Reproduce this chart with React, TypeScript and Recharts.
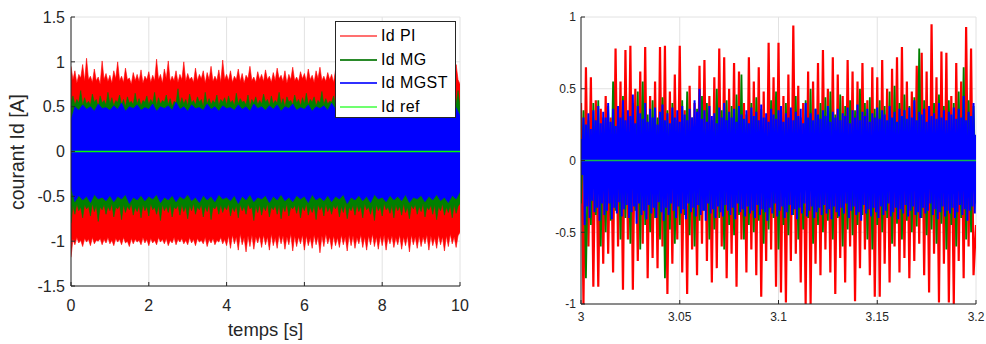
import React from "react";
import { ComposedChart, Area, Line, XAxis, YAxis, CartesianGrid } from "recharts";

const FONT = '"Liberation Sans", Arial, sans-serif';
const AX = "#262626";
const GRID = "#e2e2e2";
const PI = "#ff0000";
const MG = "#008000";
const MGST = "#0000ff";
const REF = "#00ff00";

// ---- left plot : upper / lower envelope of each current over 0..10 s
const leftXTicks = [0, 2, 4, 6, 8, 10];
const leftYTicks = [-1.5, -1, -0.5, 0, 0.5, 1, 1.5];

// red and green read every 0.05 s
const piHi = [
  0.95,0.80,0.90,0.76,0.86,0.82,0.97,0.78,1.04,0.80,0.84,0.77,0.92,0.79,0.83,0.75,1.01,0.80,0.87,0.78,
  0.85,0.76,0.90,0.81,1.00,0.79,0.84,0.77,0.93,0.80,0.82,0.75,0.88,0.79,0.86,0.78,0.91,0.76,0.84,0.80,
  0.89,0.77,0.85,0.79,1.03,0.80,0.86,0.76,0.92,0.81,1.01,0.78,0.84,0.79,0.90,0.77,0.86,0.80,1.00,0.78,
  0.87,0.80,0.83,0.77,0.93,0.79,0.86,0.81,0.90,0.76,0.88,0.80,0.95,0.78,0.84,0.79,0.91,0.77,1.02,0.80,
  0.86,0.79,0.90,0.77,0.84,0.80,0.92,0.78,0.87,0.76,0.85,0.81,0.95,0.79,0.83,0.77,0.89,0.80,0.86,0.78,
  0.91,0.80,0.84,0.77,0.88,0.79,0.93,0.81,0.85,0.78,0.90,0.76,0.86,0.80,0.94,0.79,0.83,0.78,0.89,0.81,
  0.87,0.78,0.92,0.80,0.85,0.77,0.90,0.81,0.94,0.79,0.84,0.78,0.88,0.80,0.86,0.77,0.91,0.82,0.85,0.79,
  0.89,0.80,0.93,0.78,0.86,0.81,0.90,0.77,0.87,0.80,0.95,0.79,0.84,0.78,0.91,0.81,0.86,0.77,0.89,0.80,
  0.92,0.79,0.85,0.78,0.90,0.81,0.87,0.77,0.93,0.80,0.84,0.79,0.88,0.82,0.86,0.78,0.91,0.80,0.85,0.79,
  0.90,0.78,0.87,0.81,0.92,0.79,0.85,0.80,0.89,0.77,0.86,0.81,0.91,0.79,0.88,0.80,0.84,0.78,0.97,0.80,
  0.75];
const piLo = [
  -1.18,-0.98,-1.04,-0.96,-1.02,-0.99,-1.06,-0.97,-1.01,-0.98,-1.05,-0.96,-1.03,-0.99,-1.00,-0.97,-1.04,-0.98,-1.02,-0.96,
  -1.03,-0.99,-1.05,-0.97,-1.01,-0.98,-1.04,-0.96,-1.02,-1.00,-1.06,-0.97,-1.03,-0.98,-1.01,-0.99,-1.04,-0.96,-1.02,-0.98,
  -1.05,-0.97,-1.02,-0.99,-1.04,-0.96,-1.01,-0.98,-1.03,-0.97,-1.05,-0.99,-1.02,-0.96,-1.04,-0.98,-1.01,-0.97,-1.03,-0.99,
  -1.04,-0.96,-1.02,-0.98,-1.05,-0.97,-1.01,-0.99,-1.03,-0.96,-1.06,-0.98,-1.02,-0.97,-1.04,-0.99,-1.01,-0.96,-1.03,-0.98,
  -1.05,-0.94,-1.08,-0.93,-1.03,-0.95,-1.10,-0.92,-1.04,-0.96,-1.12,-0.94,-1.06,-0.93,-1.09,-0.95,-1.02,-0.94,-1.07,-0.93,
  -1.04,-0.95,-1.10,-0.92,-1.05,-0.96,-1.08,-0.93,-1.03,-0.94,-1.09,-0.95,-1.04,-0.92,-1.11,-0.94,-1.06,-0.95,-1.03,-0.93,
  -1.10,-0.94,-1.05,-0.96,-1.08,-0.93,-1.04,-0.95,-1.13,-0.94,-1.06,-0.92,-1.03,-0.95,-1.09,-0.94,-1.05,-0.96,-1.07,-0.93,
  -1.04,-0.95,-1.11,-0.93,-1.05,-0.94,-1.08,-0.96,-1.03,-0.93,-1.07,-0.95,-1.10,-0.94,-1.04,-0.92,-1.06,-0.95,-1.09,-0.94,
  -1.05,-0.93,-1.10,-0.95,-1.03,-0.94,-1.07,-0.96,-1.04,-0.93,-1.09,-0.95,-1.05,-0.94,-1.12,-0.93,-1.04,-0.95,-1.08,-0.94,
  -1.06,-0.95,-1.03,-0.93,-1.10,-0.94,-1.05,-0.96,-1.08,-0.93,-1.04,-0.95,-1.11,-0.94,-1.06,-0.92,-1.03,-0.95,-1.07,-0.94,
  -0.90];
const mgHi = [
  0.55,0.62,0.52,0.58,0.54,0.68,0.51,0.60,0.53,0.56,0.52,0.64,0.55,0.58,0.50,0.62,0.54,0.57,0.52,0.66,
  0.53,0.60,0.51,0.57,0.55,0.63,0.52,0.58,0.50,0.61,0.54,0.56,0.52,0.65,0.53,0.59,0.51,0.57,0.55,0.62,
  0.52,0.58,0.54,0.66,0.51,0.60,0.53,0.57,0.55,0.63,0.52,0.59,0.50,0.56,0.54,0.70,0.52,0.60,0.53,0.58,
  0.51,0.64,0.54,0.57,0.52,0.61,0.55,0.58,0.50,0.66,0.53,0.59,0.52,0.57,0.54,0.63,0.51,0.58,0.55,0.60,
  0.52,0.62,0.54,0.57,0.51,0.65,0.53,0.59,0.55,0.56,0.52,0.63,0.50,0.58,0.54,0.61,0.52,0.57,0.53,0.64,
  0.55,0.58,0.51,0.62,0.53,0.57,0.54,0.66,0.52,0.59,0.50,0.61,0.55,0.57,0.52,0.63,0.54,0.58,0.51,0.60,
  0.53,0.65,0.52,0.58,0.55,0.61,0.51,0.57,0.54,0.67,0.52,0.59,0.53,0.56,0.55,0.62,0.51,0.58,0.54,0.60,
  0.52,0.63,0.54,0.57,0.51,0.60,0.55,0.66,0.53,0.58,0.52,0.61,0.54,0.57,0.50,0.64,0.53,0.59,0.55,0.57,
  0.51,0.62,0.54,0.58,0.52,0.65,0.53,0.57,0.55,0.60,0.51,0.63,0.54,0.58,0.52,0.61,0.53,0.66,0.51,0.58,
  0.54,0.60,0.52,0.57,0.55,0.63,0.51,0.59,0.53,0.58,0.52,0.64,0.54,0.57,0.55,0.61,0.52,0.60,0.53,0.68,
  0.50];
const mgLo = [
  -0.80,-0.60,-0.70,-0.58,-0.66,-0.62,-0.74,-0.59,-0.64,-0.61,-0.72,-0.58,-0.67,-0.60,-0.78,-0.62,-0.65,-0.59,-0.70,-0.61,
  -0.66,-0.58,-0.73,-0.62,-0.64,-0.60,-0.76,-0.59,-0.68,-0.61,-0.65,-0.58,-0.71,-0.62,-0.67,-0.60,-0.74,-0.59,-0.66,-0.61,
  -0.72,-0.58,-0.65,-0.62,-0.70,-0.60,-0.77,-0.59,-0.66,-0.61,-0.68,-0.58,-0.73,-0.62,-0.64,-0.60,-0.71,-0.59,-0.67,-0.61,
  -0.75,-0.60,-0.66,-0.58,-0.70,-0.62,-0.65,-0.59,-0.73,-0.61,-0.67,-0.58,-0.76,-0.62,-0.64,-0.60,-0.70,-0.59,-0.68,-0.61,
  -0.65,-0.58,-0.72,-0.62,-0.67,-0.60,-0.74,-0.59,-0.66,-0.61,-0.70,-0.58,-0.64,-0.62,-0.77,-0.60,-0.68,-0.59,-0.71,-0.61,
  -0.66,-0.58,-0.73,-0.62,-0.65,-0.60,-0.70,-0.59,-0.75,-0.61,-0.67,-0.58,-0.72,-0.62,-0.64,-0.60,-0.69,-0.59,-0.74,-0.61,
  -0.66,-0.58,-0.71,-0.62,-0.68,-0.60,-0.76,-0.59,-0.65,-0.61,-0.72,-0.58,-0.67,-0.62,-0.70,-0.60,-0.64,-0.59,-0.73,-0.61,
  -0.68,-0.58,-0.75,-0.62,-0.66,-0.60,-0.71,-0.59,-0.67,-0.61,-0.74,-0.58,-0.65,-0.62,-0.70,-0.60,-0.77,-0.59,-0.66,-0.61,
  -0.72,-0.58,-0.65,-0.62,-0.69,-0.60,-0.74,-0.59,-0.66,-0.61,-0.71,-0.58,-0.68,-0.62,-0.75,-0.60,-0.64,-0.59,-0.70,-0.61,
  -0.67,-0.58,-0.73,-0.62,-0.65,-0.60,-0.70,-0.59,-0.76,-0.61,-0.66,-0.58,-0.71,-0.62,-0.68,-0.60,-0.74,-0.59,-0.69,-0.61,
  -0.58];

// blue read every 0.1 s
const mgstHi = [0.35,0.50,0.46,0.52,0.47,0.50,0.45,0.53,0.48,0.49,
  0.46,0.51,0.47,0.54,0.45,0.50,0.48,0.52,0.46,0.49,
  0.47,0.53,0.45,0.50,0.48,0.51,0.46,0.55,0.47,0.50,
  0.45,0.52,0.48,0.49,0.46,0.53,0.47,0.50,0.45,0.51,
  0.48,0.49,0.46,0.52,0.47,0.50,0.45,0.53,0.48,0.50,
  0.46,0.51,0.47,0.52,0.45,0.50,0.48,0.53,0.46,0.49,
  0.47,0.52,0.45,0.50,0.48,0.51,0.46,0.54,0.47,0.50,
  0.45,0.52,0.48,0.49,0.46,0.53,0.47,0.50,0.45,0.51,
  0.48,0.50,0.46,0.52,0.47,0.49,0.45,0.53,0.48,0.50,
  0.46,0.51,0.47,0.52,0.45,0.50,0.48,0.53,0.46,0.49,
  0.40];
const mgstLo = [-0.40,-0.56,-0.49,-0.54,-0.50,-0.57,-0.48,-0.53,-0.51,-0.55,
  -0.49,-0.56,-0.50,-0.53,-0.48,-0.58,-0.51,-0.54,-0.49,-0.55,
  -0.50,-0.53,-0.48,-0.57,-0.51,-0.54,-0.49,-0.56,-0.50,-0.53,
  -0.48,-0.55,-0.51,-0.57,-0.49,-0.54,-0.50,-0.56,-0.48,-0.53,
  -0.51,-0.55,-0.49,-0.58,-0.50,-0.54,-0.48,-0.56,-0.51,-0.53,
  -0.49,-0.57,-0.50,-0.54,-0.48,-0.55,-0.51,-0.56,-0.49,-0.53,
  -0.50,-0.57,-0.48,-0.54,-0.51,-0.55,-0.49,-0.56,-0.50,-0.53,
  -0.48,-0.58,-0.51,-0.54,-0.49,-0.55,-0.50,-0.57,-0.48,-0.53,
  -0.51,-0.56,-0.49,-0.54,-0.50,-0.55,-0.48,-0.57,-0.51,-0.53,
  -0.49,-0.56,-0.50,-0.54,-0.48,-0.55,-0.51,-0.57,-0.49,-0.53,
  -0.45];

// ---- right plot : zoom on 3.0..3.2 s (one sample every 1.25 ms)
const rightXTicks = [3, 3.05, 3.1, 3.15, 3.2];
const rightYTicks = [-1, -0.5, 0, 0.5, 1];
const T0 = 3;
const DT = 0.00125;

const zoomPI = [0.40,-1.00,0.65,-0.60,0.58,-0.88,0.42,-0.88,0.36,-0.72,
  0.45,-0.65,0.30,-0.78,0.78,-0.60,0.55,-0.90,0.77,-0.55,
  0.80,-0.90,0.50,-0.70,0.62,-0.58,0.79,-0.82,0.45,-0.68,
  0.55,-0.75,0.79,-0.60,0.80,-0.93,0.48,-0.72,0.60,-0.55,
  0.80,-0.78,0.35,-0.93,0.52,-0.62,0.40,-0.80,0.66,-0.58,
  0.70,-0.70,0.45,-0.85,0.58,-0.75,0.78,-0.60,0.72,-0.82,
  0.50,-0.65,0.68,-0.88,0.62,-0.55,0.40,-0.78,0.72,-0.62,
  0.55,-0.80,0.65,-0.95,0.48,-0.70,0.82,-0.62,0.58,-0.88,
  0.82,-0.92,0.45,-0.99,0.60,-0.70,0.94,-0.65,0.52,-0.85,
  0.40,-1.00,0.62,-1.00,0.55,-0.72,0.68,-0.80,0.77,-0.62,
  0.50,-0.78,0.72,-0.93,0.60,-0.68,0.45,-0.85,0.70,-0.60,
  0.62,-0.98,0.55,-0.75,0.68,-0.62,0.42,-0.80,0.65,-0.95,
  0.58,-0.95,0.70,-0.72,0.50,-0.85,0.64,-0.60,0.72,-0.78,
  0.79,-0.68,0.55,-0.82,0.48,-0.70,0.66,-0.58,0.75,-0.80,
  0.62,-0.92,0.95,-0.65,0.58,-0.99,0.76,-0.72,0.75,-0.99,
  0.45,-1.00,0.68,-0.70,0.55,-0.82,0.93,-0.60,0.78,-0.80,
  -0.45];
const zoomMG = [-0.30,0.35,-0.82,0.28,-0.45,0.40,-0.38,0.42,-0.60,0.30,
  -0.50,0.38,-0.42,0.55,-0.35,0.30,-0.55,0.45,-0.40,0.25,
  -0.58,0.40,-0.35,0.48,-0.62,0.55,-0.45,0.32,-0.50,0.42,
  -0.40,0.30,-0.55,0.44,-0.82,0.35,-0.48,0.40,-0.58,0.28,
  -0.45,0.42,-0.38,0.48,-0.52,0.30,-0.60,0.36,-0.42,0.45,
  -0.35,0.40,-0.55,0.28,-0.48,0.50,-0.40,0.35,-0.62,0.42,
  -0.45,0.38,-0.52,0.46,-0.38,0.60,-0.55,0.32,-0.45,0.40,
  -0.50,0.44,-0.42,0.36,-0.58,0.30,-0.48,0.42,-0.40,0.48,
  -0.62,0.35,-0.45,0.40,-0.52,0.32,-0.38,0.45,-0.55,0.30,
  -0.48,0.42,-0.40,0.50,-0.58,0.36,-0.45,0.40,-0.50,0.44,
  -0.42,0.48,-0.55,0.32,-0.40,0.46,-0.60,0.38,-0.48,0.42,
  -0.52,0.35,-0.45,0.50,-0.38,0.40,-0.55,0.44,-0.62,0.36,
  -0.45,0.42,-0.50,0.38,-0.40,0.48,-0.58,0.52,-0.44,0.40,
  -0.55,0.46,-0.42,0.38,-0.50,0.44,-0.46,0.78,-0.40,0.42,
  -0.52,0.36,-0.48,0.40,-0.58,0.46,-0.44,0.38,-0.62,0.42,
  -0.45,0.40,-0.60,0.48,-0.40,0.65,-0.55,0.42,-0.50,0.38,
  -0.30];
const zoomMgstHi = [0.15,0.30,0.25,0.33,0.22,0.35,0.28,0.38,0.26,0.34,
  0.30,0.40,0.27,0.36,0.24,0.38,0.30,0.42,0.28,0.35,
  0.31,0.46,0.26,0.38,0.33,0.29,0.40,0.27,0.36,0.30,
  0.37,0.25,0.34,0.39,0.28,0.33,0.26,0.37,0.30,0.35,
  0.27,0.38,0.32,0.28,0.36,0.30,0.42,0.34,0.50,0.29,
  0.35,0.27,0.38,0.31,0.33,0.26,0.37,0.30,0.40,0.28,
  0.34,0.30,0.36,0.27,0.38,0.32,0.29,0.35,0.26,0.37,
  0.31,0.34,0.28,0.39,0.30,0.33,0.27,0.36,0.32,0.29,
  0.35,0.38,0.27,0.33,0.30,0.37,0.28,0.34,0.31,0.36,
  0.26,0.40,0.30,0.33,0.28,0.36,0.32,0.29,0.35,0.31,
  0.38,0.27,0.34,0.30,0.36,0.28,0.33,0.31,0.37,0.26,
  0.35,0.30,0.39,0.28,0.34,0.31,0.36,0.27,0.33,0.30,
  0.37,0.29,0.35,0.32,0.28,0.38,0.30,0.34,0.27,0.36,
  0.31,0.35,0.29,0.37,0.30,0.42,0.28,0.34,0.32,0.36,
  0.27,0.38,0.31,0.33,0.29,0.40,0.30,0.35,0.28,0.34,
  0.32,0.37,0.29,0.36,0.30,0.45,0.28,0.34,0.31,0.40,
  0.18];
const zoomMgstLo = [-0.10,-0.45,-0.32,-0.40,-0.28,-0.36,-0.33,-0.42,-0.30,-0.38,
  -0.35,-0.30,-0.41,-0.33,-0.37,-0.29,-0.39,-0.34,-0.31,-0.40,
  -0.36,-0.32,-0.44,-0.30,-0.38,-0.35,-0.41,-0.31,-0.37,-0.33,
  -0.40,-0.29,-0.36,-0.42,-0.33,-0.38,-0.30,-0.35,-0.40,-0.32,
  -0.37,-0.34,-0.41,-0.30,-0.36,-0.33,-0.39,-0.31,-0.38,-0.35,
  -0.42,-0.30,-0.37,-0.34,-0.40,-0.32,-0.36,-0.39,-0.31,-0.35,
  -0.38,-0.33,-0.41,-0.30,-0.36,-0.34,-0.39,-0.32,-0.37,-0.35,
  -0.40,-0.31,-0.38,-0.34,-0.36,-0.42,-0.33,-0.37,-0.30,-0.39,
  -0.35,-0.32,-0.40,-0.36,-0.31,-0.38,-0.34,-0.41,-0.33,-0.37,
  -0.30,-0.39,-0.35,-0.32,-0.40,-0.36,-0.33,-0.38,-0.31,-0.37,
  -0.34,-0.41,-0.32,-0.36,-0.39,-0.33,-0.37,-0.30,-0.40,-0.35,
  -0.32,-0.38,-0.36,-0.42,-0.31,-0.37,-0.34,-0.39,-0.33,-0.36,
  -0.40,-0.32,-0.38,-0.35,-0.30,-0.39,-0.36,-0.33,-0.41,-0.34,
  -0.37,-0.31,-0.39,-0.35,-0.32,-0.38,-0.36,-0.40,-0.33,-0.37,
  -0.35,-0.30,-0.38,-0.34,-0.41,-0.36,-0.32,-0.39,-0.35,-0.37,
  -0.33,-0.40,-0.36,-0.31,-0.38,-0.34,-0.42,-0.35,-0.32,-0.37,
  -0.20];

const legendNames = ["Id PI", "Id MG", "Id MGST", "Id ref"];
const legendColors = ["#ff7070", "#2a8a2a", "#3030ff", "#70ff70"];

// tables for recharts
const leftRows = piHi.map((_, i) => ({
  t: i / 20,
  pi: [piLo[i], piHi[i]],
  mg: [mgLo[i], mgHi[i]],
}));
const mgstLeftRows = mgstHi.map((hi, i) => ({ t: i / 10, mgst: [mgstLo[i], hi] }));
const refLeft = [{ t: 0, v: 0 }, { t: 10, v: 0 }];

const rightRows = zoomPI.map((v, i) => ({ t: T0 + i * DT, pi: v, mg: zoomMG[i] }));
// blue trace goes up then down inside each sample step
const mgstRows = zoomMgstHi
  .flatMap((hi, i) => [
    { t: T0 + i * DT, v: hi },
    { t: T0 + (i + 0.5) * DT, v: zoomMgstLo[i] },
  ])
  .filter((r) => r.t <= 3.2);
const refRight = [{ t: 3, v: 0 }, { t: 3.2, v: 0 }];

const tickStyle = (size: number) => ({ fill: AX, fontSize: size, fontFamily: FONT });

export default function App() {
  return (
    <div style={{ position: "absolute", left: 0, top: 0, width: 986, height: 344, background: "#fff", fontFamily: FONT }}>
      <div style={{ position: "absolute", left: 0, top: 0 }}>
        <ComposedChart width={470} height={344} data={leftRows} margin={{ top: 17, right: 10, bottom: 0, left: 0 }}>
          <CartesianGrid stroke={GRID} />
          <XAxis dataKey="t" type="number" domain={[0, 10]} ticks={leftXTicks} interval={0} allowDataOverflow
            height={58} stroke={AX} tickSize={-4} tickMargin={18} tick={tickStyle(16)} />
          <XAxis xAxisId="top" orientation="top" dataKey="t" type="number" domain={[0, 10]} ticks={leftXTicks}
            interval={0} height={0} stroke={AX} tickSize={-4} tick={false} />
          <YAxis type="number" domain={[-1.5, 1.5]} ticks={leftYTicks} interval={0} allowDataOverflow
            width={71} stroke={AX} tickSize={-4} tickMargin={10} tick={tickStyle(16)} />
          <YAxis yAxisId="right" orientation="right" type="number" domain={[-1.5, 1.5]} ticks={leftYTicks}
            interval={0} width={0} stroke={AX} tickSize={-4} tick={false} />
          <Area type="linear" dataKey="pi" stroke={PI} strokeWidth={0.6} fill={PI} fillOpacity={1}
            dot={false} activeDot={false} isAnimationActive={false} />
          <Area type="linear" dataKey="mg" stroke={MG} strokeWidth={0.6} fill={MG} fillOpacity={1}
            dot={false} activeDot={false} isAnimationActive={false} />
          <Area type="linear" data={mgstLeftRows} dataKey="mgst" stroke={MGST} strokeWidth={0.6} fill={MGST}
            fillOpacity={1} dot={false} activeDot={false} isAnimationActive={false} />
          <Line data={refLeft} dataKey="v" stroke={REF} strokeWidth={1.6} dot={false} activeDot={false}
            isAnimationActive={false} />
        </ComposedChart>
      </div>

      <div style={{ position: "absolute", left: 480, top: 0 }}>
        <ComposedChart width={506} height={344} data={rightRows} margin={{ top: 17, right: 10, bottom: 0, left: 0 }}>
          <CartesianGrid stroke={GRID} />
          <XAxis dataKey="t" type="number" domain={[3, 3.2]} ticks={rightXTicks} interval={0} allowDataOverflow
            height={40} stroke={AX} tickSize={-4} tickMargin={12} tick={tickStyle(12)} />
          <XAxis xAxisId="top" orientation="top" dataKey="t" type="number" domain={[3, 3.2]} ticks={rightXTicks}
            interval={0} height={0} stroke={AX} tickSize={-4} tick={false} />
          <YAxis type="number" domain={[-1, 1]} ticks={rightYTicks} interval={0} allowDataOverflow
            width={101} stroke={AX} tickSize={-4} tickMargin={9} tick={tickStyle(12)} />
          <YAxis yAxisId="right" orientation="right" type="number" domain={[-1, 1]} ticks={rightYTicks}
            interval={0} width={0} stroke={AX} tickSize={-4} tick={false} />
          <Line type="linear" dataKey="pi" stroke={PI} strokeWidth={2.2} dot={false} activeDot={false}
            isAnimationActive={false} />
          <Line type="linear" dataKey="mg" stroke={MG} strokeWidth={1.8} dot={false} activeDot={false}
            isAnimationActive={false} />
          <Line type="linear" data={mgstRows} dataKey="v" stroke={MGST} strokeWidth={2} dot={false}
            activeDot={false} isAnimationActive={false} />
          <Line data={refRight} dataKey="v" stroke="#10b850" strokeWidth={1.6} dot={false} activeDot={false}
            isAnimationActive={false} />
        </ComposedChart>
      </div>

      {/* legend of the left plot */}
      <div style={{ position: "absolute", left: 335, top: 21, width: 119, height: 95, background: "#fff",
        border: `1px solid ${AX}`, zIndex: 5 }}>
        {legendNames.map((name, i) => (
          <div key={name} style={{ position: "absolute", left: 0, top: 3 + i * 23.5, height: 23, width: 119 }}>
            <div style={{ position: "absolute", left: 4, top: 10, width: 37, height: 2, background: legendColors[i] }} />
            <span style={{ position: "absolute", left: 45, top: 1, fontSize: 16, lineHeight: "20px", color: "#000",
              letterSpacing: 0.4, whiteSpace: "nowrap" }}>{name}</span>
          </div>
        ))}
      </div>

      {/* axis titles of the left plot */}
      <svg width={986} height={344} style={{ position: "absolute", left: 0, top: 0, pointerEvents: "none" }}>
        <text x={265.5} y={336} textAnchor="middle" fontSize={18.5} fill={AX} fontFamily={FONT}>temps [s]</text>
        <text transform="translate(24,152) rotate(-90)" textAnchor="middle" fontSize={19.5} fill={AX}
          fontFamily={FONT}>courant Id [A]</text>
      </svg>
    </div>
  );
}
